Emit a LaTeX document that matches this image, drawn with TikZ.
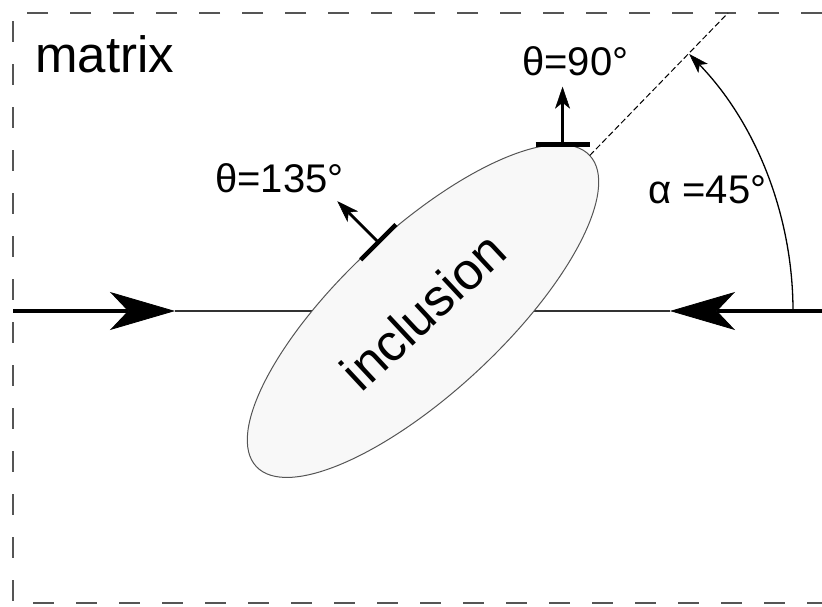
\documentclass[tikz,border=0pt]{standalone}
\usepackage{fontspec}
\setmainfont{Liberation Sans}
\usetikzlibrary{arrows.meta,shapes.geometric,calc}
\definecolor{framegray}{HTML}{555555}
\definecolor{inclfill}{HTML}{F8F8F8}
\begin{document}
\begin{tikzpicture}[x=1pt,y=-1pt,
  load/.style={line width=4pt, -{Stealth[length=65pt,width=38pt,inset=18pt,line width=0.8pt]}},
  normal/.style={line width=3pt, -{Stealth[length=22pt,width=15pt,inset=6pt,line width=0.5pt]}},
  tangent/.style={line width=4.5pt},
  label/.style={font=\fontsize{40}{48}\selectfont, anchor=base west, inner sep=0pt}]
  \useasboundingbox (0,0) rectangle (822,606);
  % matrix frame
  \draw[framegray, line width=2pt, dash pattern=on 21pt off 22pt]
    (822,13) -- (13,13) -- (13,603) -- (822,603);
  \node[label, font=\fontsize{51}{60}\selectfont] (matrix) at (35,72) {matrix};
  % loading axis
  \coordinate (leftEnd) at (13,311);
  \coordinate (leftTip) at (175,311);
  \coordinate (rightEnd) at (822,311);
  \coordinate (rightTip) at (670,311);
  \draw[line width=1.3pt, black!80] (leftTip) -- (rightTip);
  \draw[load] (leftEnd) -- (leftTip);
  \draw[load] (rightEnd) -- (rightTip);
  % inclusion
  \node[ellipse, draw=framegray, fill=inclfill, line width=1pt, outer sep=0pt,
    minimum width=456pt, minimum height=162pt, rotate=43,
    font=\fontsize{52}{60}\selectfont] (incl) at (423,311) {inclusion};
  \coordinate (axisEnd) at (728,13);
  \draw[line width=1pt, dash pattern=on 6pt off 3pt] (incl.east) -- (axisEnd);
  % normals
  \coordinate (top) at (incl.7);
  \coordinate (side) at (incl.80);
  \draw[tangent] ($(top)+(-27,0)$) -- ($(top)+(27,0)$);
  \draw[normal] (top) -- ++(0,-58);
  \draw[tangent] ($(side)+(135:25)$) -- ($(side)+(-45:25)$);
  \draw[normal] (side) -- ++(-135:58);
  \node[label] (theta90) at (522,75) {θ=90°};
  \node[label] (theta135) at (215,192) {θ=135°};
  % angle
  \draw[line width=1.3pt, -{Stealth[length=20pt,width=13pt,inset=5pt,line width=0.5pt]}]
    (incl.center) ++(370,0) arc[start angle=0, end angle=-44, radius=370];
  \node[label] (alpha) at (648,203) {α =45°};
\end{tikzpicture}
\end{document}
